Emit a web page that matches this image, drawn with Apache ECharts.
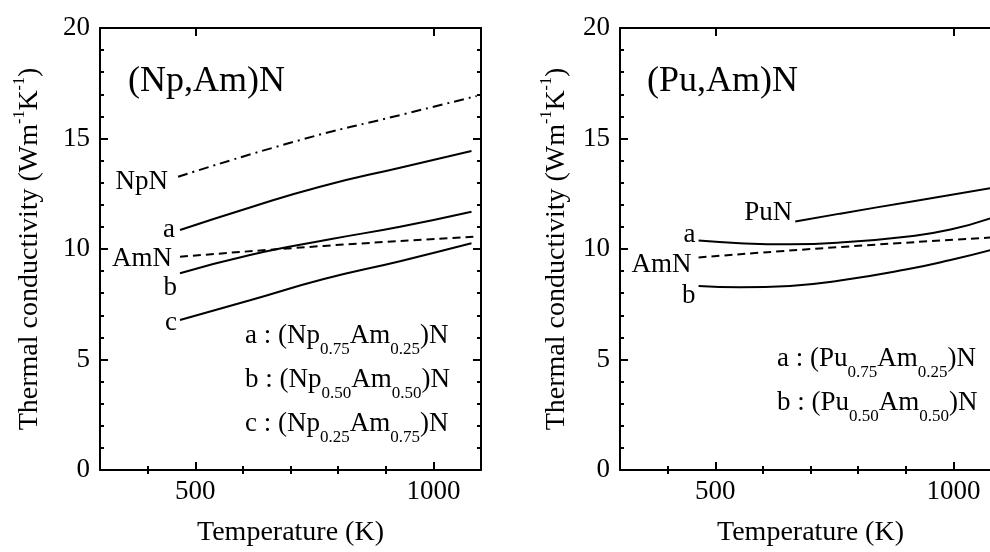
<!DOCTYPE html>
<html>
<head>
<meta charset="utf-8">
<script src="https://cdn.jsdelivr.net/npm/echarts@6/dist/echarts.min.js"></script>
<style>
  html, body { margin: 0; padding: 0; background: #fff; }
  #chart { width: 990px; height: 552px; }
</style>
</head>
<body>
<div id="chart"></div>
<script>
// Thermal conductivity (W m^-1 K^-1) against temperature (K)

// (Np,Am)N panel
const npnT = [464, 720, 930, 1091];
const npnK = [13.27, 14.93, 16.06, 16.92];
const npAT = [468, 615, 762, 930, 1080];
const npAK = [10.86, 11.88, 12.82, 13.68, 14.43];
const npBT = [468, 615, 783, 930, 1080];
const npBK = [8.90, 9.73, 10.44, 11.01, 11.69];
const npCT = [468, 615, 770, 930, 1080];
const npCK = [6.79, 7.68, 8.64, 9.45, 10.26];
const amnLT = [468, 770, 1091];
const amnLK = [9.65, 10.14, 10.56];

// (Pu,Am)N panel
const punT = [668, 762, 910, 1078];
const punK = [11.24, 11.60, 12.14, 12.75];
const puAT = [465, 552, 657, 762, 910, 994, 1078];
const puAK = [10.38, 10.26, 10.21, 10.29, 10.58, 10.88, 11.39];
const puBT = [465, 552, 657, 762, 903, 994, 1078];
const puBK = [8.33, 8.27, 8.33, 8.57, 9.08, 9.50, 9.95];
const amnRT = [465, 755, 1078];
const amnRK = [9.62, 10.08, 10.52];

// axis ticks
const xMajor = [500, 1000];
const xMinor = [400, 600, 700, 800, 900];
const xRange = [300, 1100];
const yRange = [0, 20];
const yStep = 5;

const FONT = 'Liberation Serif';
const BLACK = '#000';

const chart = echarts.init(document.getElementById('chart'), null, { renderer: 'canvas' });

const subRich = {
  m: { fontFamily: FONT, fontSize: 27, lineHeight: 46, color: BLACK },
  s: { fontFamily: FONT, fontSize: 17, lineHeight: 12, verticalAlign: 'bottom', color: BLACK }
};
const supRich = {
  m: { fontFamily: FONT, fontSize: 28, lineHeight: 36, color: BLACK },
  u: { fontFamily: FONT, fontSize: 16, lineHeight: 20, verticalAlign: 'top', color: BLACK }
};

function xAxes(grid) {
  const base = {
    type: 'value', gridIndex: grid, min: xRange[0], max: xRange[1],
    splitLine: { show: false },
    axisLine: { show: true, onZero: false, lineStyle: { color: BLACK, width: 2 } },
    axisLabel: { show: false }
  };
  const tick = (vals, len) => ({ show: true, inside: true, length: len, customValues: vals,
    lineStyle: { color: BLACK, width: 2 } });
  return [
    Object.assign({}, base, {
      position: 'bottom',
      axisTick: tick(xMajor, 8),
      axisLabel: { show: true, customValues: xMajor, margin: 8, formatter: v => String(v),
        fontFamily: FONT, fontSize: 27, color: BLACK },
      name: 'Temperature (K)', nameLocation: 'middle', nameGap: 49,
      nameTextStyle: { fontFamily: FONT, fontSize: 28, color: BLACK }
    }),
    Object.assign({}, base, { position: 'bottom', axisLine: { show: false }, axisTick: tick(xMinor, 4) }),
    Object.assign({}, base, { position: 'top', axisTick: tick(xMajor, 8) }),
    Object.assign({}, base, { position: 'top', axisLine: { show: false }, axisTick: tick(xMinor, 4) })
  ];
}

function yAxes(grid, nameGap) {
  const base = {
    type: 'value', gridIndex: grid, min: yRange[0], max: yRange[1], interval: yStep,
    splitLine: { show: false },
    axisLine: { show: true, onZero: false, lineStyle: { color: BLACK, width: 2 } },
    axisTick: { show: true, inside: true, length: 8, lineStyle: { color: BLACK, width: 2 } },
    minorTick: { show: true, splitNumber: 5, length: 4, lineStyle: { color: BLACK, width: 2 } },
    minorSplitLine: { show: false }
  };
  return [
    Object.assign({}, base, {
      position: 'left',
      axisLabel: { show: true, margin: 10, fontFamily: FONT, fontSize: 27, color: BLACK },
      name: '{m|Thermal conductivity (Wm}{u|-1}{m|K}{u|-1}{m|)}',
      nameLocation: 'middle', nameRotate: 90, nameGap: nameGap,
      nameTextStyle: { rich: supRich }
    }),
    Object.assign({}, base, { position: 'right', axisLabel: { show: false } })
  ];
}

function zip(ts, ks) { return ts.map((t, i) => [t, ks[i]]); }

function curve(ts, ks, xi, yi, type, tag, dist, dy) {
  const data = zip(ts, ks).map((p, i) => {
    if (i === 0 && tag) {
      return { value: p, label: { show: true, position: 'left', distance: dist,
        offset: [0, dy], formatter: tag, fontFamily: FONT, fontSize: 27, color: BLACK } };
    }
    return { value: p };
  });
  return {
    type: 'line', xAxisIndex: xi, yAxisIndex: yi, data: data,
    smooth: 0.5, symbol: 'circle', symbolSize: 0, showSymbol: true,
    lineStyle: { color: BLACK, width: 2, type: type, cap: 'butt' },
    itemStyle: { color: BLACK },
    emphasis: { disabled: true },
    silent: true, animation: false, z: 3
  };
}

const dashDot = [10, 5, 2, 5];
const dashed = [8, 5];

function subText(x, y, lines) {
  return lines.map((txt, i) => ({
    type: 'text', left: x, top: y[i],
    style: { text: txt, rich: subRich, fill: BLACK, verticalAlign: 'middle' }
  }));
}

const option = {
  backgroundColor: '#fff',
  animation: false,
  grid: [
    { left: 100, width: 381, top: 28, bottom: 82, containLabel: false, outerBoundsMode: 'none' },
    { left: 620, width: 381, top: 28, bottom: 82, containLabel: false, outerBoundsMode: 'none' }
  ],
  xAxis: xAxes(0).concat(xAxes(1)),
  yAxis: yAxes(0, 52).concat(yAxes(1, 45)),
  series: [
    curve(npnT, npnK, 0, 0, dashDot, 'NpN', 10, 5),
    curve(npAT, npAK, 0, 0, 'solid', 'a', 5, 0),
    curve(amnLT, amnLK, 0, 0, dashed, 'AmN', 8, 2),
    curve(npBT, npBK, 0, 0, 'solid', 'b', 3, 15),
    curve(npCT, npCK, 0, 0, 'solid', 'c', 3, 3),
    curve(punT, punK, 4, 2, 'solid', 'PuN', 3, -9),
    curve(puAT, puAK, 4, 2, 'solid', 'a', 3, -6),
    curve(amnRT, amnRK, 4, 2, dashed, 'AmN', 7, 8),
    curve(puBT, puBK, 4, 2, 'solid', 'b', 3, 10)
  ],
  graphic: [
    { type: 'text', left: 128, top: 64,
      style: { text: '(Np,Am)N', fontFamily: FONT, fontSize: 36, fill: BLACK } },
    { type: 'text', left: 647, top: 64,
      style: { text: '(Pu,Am)N', fontFamily: FONT, fontSize: 36, fill: BLACK } }
  ].concat(
    subText(245, [322, 366, 410], [
      '{m|a : (Np}{s|0.75}{m|Am}{s|0.25}{m|)N}',
      '{m|b : (Np}{s|0.50}{m|Am}{s|0.50}{m|)N}',
      '{m|c : (Np}{s|0.25}{m|Am}{s|0.75}{m|)N}'
    ]),
    subText(777, [345, 389], [
      '{m|a : (Pu}{s|0.75}{m|Am}{s|0.25}{m|)N}',
      '{m|b : (Pu}{s|0.50}{m|Am}{s|0.50}{m|)N}'
    ])
  )
};

chart.setOption(option);
</script>
</body>
</html>
